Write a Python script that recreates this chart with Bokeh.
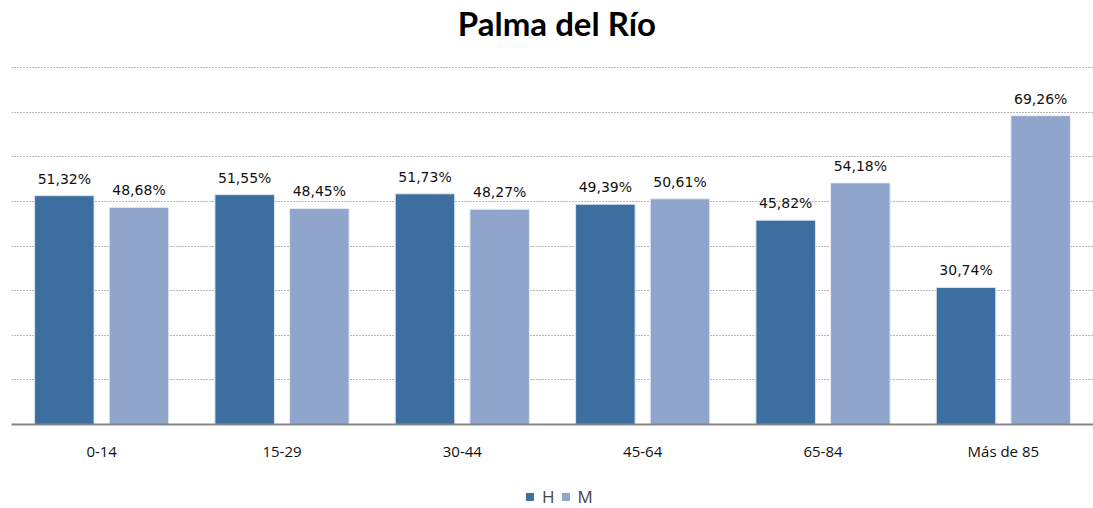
from bokeh.plotting import figure
from bokeh.layouts import column
from bokeh.models import ColumnDataSource, FactorRange, Range1d, FixedTicker, Legend, LegendItem
from bokeh.transform import dodge
from bokeh.core.properties import value
from bokeh.embed import file_html
from bokeh.resources import INLINE

title_text = "Palma del Río"
categories = ["0-14", "15-29", "30-44", "45-64", "65-84", "Más de 85"]
h_values = [51.32, 51.55, 51.73, 49.39, 45.82, 30.74]
m_values = [48.68, 48.45, 48.27, 50.61, 54.18, 69.26]
h_labels = ["51,32%", "51,55%", "51,73%", "49,39%", "45,82%", "30,74%"]
m_labels = ["48,68%", "48,45%", "48,27%", "50,61%", "54,18%", "69,26%"]
series_names = ["H", "M"]

src = ColumnDataSource(dict(cat=categories, h=h_values, m=m_values, hl=h_labels, ml=m_labels))

H_COLOR = "#3C6E9F"
M_COLOR = "#90A5CB"

# title strip
tf = figure(width=1093, height=53, output_backend="svg", toolbar_location=None,
            x_range=Range1d(0, 1093), y_range=Range1d(0, 53),
            min_border_left=0, min_border_right=0, min_border_top=0, min_border_bottom=0)
tf.axis.visible = False
tf.grid.visible = False
tf.outline_line_color = None
tf.text(x=[551], y=[31], text=[title_text], text_align="center", text_baseline="middle",
        text_font=value("Lato"), text_font_size="33px", text_font_style="bold", text_color="#000000")

p = figure(x_range=FactorRange(*categories, range_padding=0), y_range=Range1d(0, 83.2),
           frame_width=1082, frame_height=371, output_backend="svg", toolbar_location=None,
           min_border_left=11, min_border_right=0, min_border_top=0, min_border_bottom=40)

rh = p.vbar(x=dodge("cat", -0.207, range=p.x_range), top="h", width=0.33, source=src,
            fill_color=H_COLOR, line_color="#dde6f0", line_width=1)
rm = p.vbar(x=dodge("cat", 0.207, range=p.x_range), top="m", width=0.33, source=src,
            fill_color=M_COLOR, line_color="#e6ebf4", line_width=1)

p.text(x=dodge("cat", -0.207, range=p.x_range), y="h", text="hl", source=src,
       text_align="center", text_baseline="bottom", y_offset=-9,
       text_font=value("DejaVu Sans"), text_font_size="14px", text_color="#111111")
p.text(x=dodge("cat", 0.207, range=p.x_range), y="m", text="ml", source=src,
       text_align="center", text_baseline="bottom", y_offset=-9,
       text_font=value("DejaVu Sans"), text_font_size="14px", text_color="#111111")

p.yaxis.visible = False
p.ygrid.ticker = FixedTicker(ticks=[10, 20, 30, 40, 50, 60, 70, 80])
p.ygrid.grid_line_color = "#6f6f6f"
p.ygrid.grid_line_dash = "1 2"
p.ygrid.grid_line_width = 1
p.xgrid.visible = False
p.outline_line_color = None

p.xaxis.axis_line_color = "#868686"
p.xaxis.axis_line_width = 2
p.xaxis.major_tick_line_color = None
p.xaxis.minor_tick_line_color = None
p.xaxis.major_tick_out = 0
p.xaxis.major_label_standoff = 16
p.xaxis.major_label_text_font = "Open Sans"
p.xaxis.major_label_text_font_size = "15px"
p.xaxis.major_label_text_color = "#111111"

# legend strip below the chart (swatch renderers sit outside the visible range)
lf = figure(width=1093, height=44, output_backend="svg", toolbar_location=None,
            x_range=Range1d(0, 1), y_range=Range1d(0, 1),
            min_border_left=0, min_border_right=0, min_border_top=0, min_border_bottom=0)
lf.axis.visible = False
lf.grid.visible = False
lf.outline_line_color = None
lh = lf.vbar(x=[5], top=[6], bottom=[5], width=0.1, fill_color=H_COLOR, line_color=H_COLOR)
lm = lf.vbar(x=[5], top=[6], bottom=[5], width=0.1, fill_color=M_COLOR, line_color=M_COLOR)
legend = Legend(items=[LegendItem(label=series_names[0], renderers=[lh]),
                       LegendItem(label=series_names[1], renderers=[lm])],
                orientation="horizontal", location=(514, 0), border_line_color=None,
                background_fill_alpha=0,
                label_text_font="Open Sans", label_text_font_size="17px",
                glyph_width=9, glyph_height=9, spacing=6, label_standoff=8,
                label_width=12, label_height=14, margin=0, padding=0)
lf.add_layout(legend, "center")

layout = column(tf, p, lf, spacing=0)
open("out.html", "w").write(file_html(layout, INLINE))
